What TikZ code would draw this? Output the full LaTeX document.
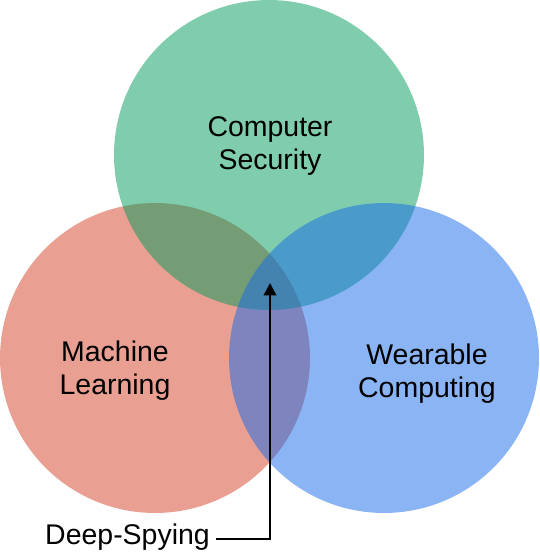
\documentclass[tikz,border=0pt]{standalone}
\usepackage{fontspec}
\setmainfont{Liberation Sans}
\usepackage{xcolor}
\usepackage{tikz}
\usetikzlibrary{arrows.meta, positioning}

\definecolor{secgreen}{RGB}{0,155,89}
\definecolor{mlred}{RGB}{211,65,39}
\definecolor{wearblue}{RGB}{21,105,233}

\begin{document}
\begin{tikzpicture}[
      x=0.02cm, y=-0.02cm,
      venn/.style={circle, draw=none, fill opacity=0.5, minimum size=6.2cm, inner sep=0pt},
      label/.style={align=center, font=\fontsize{16.2}{18.8}\selectfont},
      pointer/.style={line width=1.4pt, -{Triangle[length=7pt, width=7pt]}}
    ]
      \useasboundingbox (0,0) rectangle (540,552);

      % the three fields, drawn in this order
      \node[venn, fill=mlred] (ml) at (155,358) {};
      \node[venn, fill=secgreen] (sec) at (269,155) {};
      \node[venn, fill=wearblue] (wear) at (384,358) {};

      \node[label] (secText) at (270,146) {Computer\\Security};
      \node[label] (mlText) at (115,371) {Machine\\Learning};
      \node[label] (wearText) at (427,374) {Wearable\\Computing};

      % label for the common part
      \node[label, anchor=east] (deep) at (216,537) {Deep-Spying};
      \coordinate (corner) at (270,539);
      \coordinate (centre) at (270,283);
      \draw[pointer] (deep.east |- corner) -- (corner) -- (centre);
    \end{tikzpicture}
\end{document}
